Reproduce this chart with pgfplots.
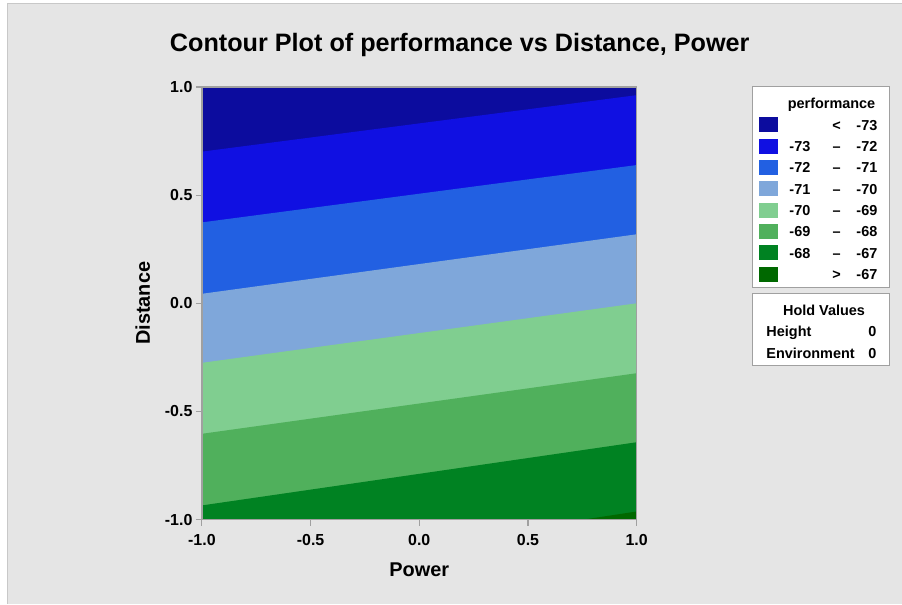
\documentclass[border=0pt]{standalone}
\usepackage{pgfplots}
\pgfplotsset{compat=1.18}
\usepackage{fontspec}
\setmainfont{Liberation Sans}

\definecolor{bggray}{HTML}{E5E5E5}
\definecolor{edgegray}{HTML}{C8C8C8}
\definecolor{axgray}{HTML}{A0A0A0}
\definecolor{lvA}{HTML}{0C0C9E}
\definecolor{lvB}{HTML}{1010E2}
\definecolor{lvC}{HTML}{2260E2}
\definecolor{lvD}{HTML}{7FA7DA}
\definecolor{lvE}{HTML}{80CE90}
\definecolor{lvF}{HTML}{50B05C}
\definecolor{lvG}{HTML}{008222}
\definecolor{lvH}{HTML}{006800}

\newcommand{\ttl}{\fontsize{25.3}{25.3}\selectfont\bfseries}
\newcommand{\lbl}{\fontsize{20}{20}\selectfont\bfseries}
\newcommand{\tck}{\fontsize{16}{16}\selectfont\bfseries}
\newcommand{\leg}{\fontsize{14.5}{14.5}\selectfont\bfseries}

\begin{document}
\begin{tikzpicture}[x=1bp,y=1bp]
% page background
\fill[white] (0,0) rectangle (902,604);
\fill[bggray] (7,0) rectangle (902,600);
\draw[edgegray, line width=1bp] (7.5,0) -- (7.5,600) -- (902,600);

% title
\node[font=\ttl] at (460,559) {Contour Plot of performance vs Distance, Power};

\begin{axis}[
  at={(202bp,84bp)}, anchor=south west,
  scale only axis, width=435bp, height=433bp,
  xmin=-1, xmax=1, ymin=-1, ymax=1,
  axis on top,
  axis line style={axgray, line width=1.5bp},
  tick style={axgray, line width=1.2bp},
  tick align=outside, major tick length=6bp,
  xtick={-1,-0.5,0,0.5,1},
  xticklabels={-1.0,-0.5,0.0,0.5,1.0},
  ytick={-1,-0.5,0,0.5,1},
  yticklabels={-1.0,-0.5,0.0,0.5,1.0},
  xtick pos=bottom, ytick pos=left,
  ticklabel style={font=\tck},
  xticklabel style={yshift=-5bp},
  xlabel={Power}, ylabel={Distance},
  label style={font=\lbl},
  xlabel style={at={(axis description cs:0.5,-0.1155)}, anchor=center},
  ylabel style={at={(axis description cs:-0.136,0.5)}, anchor=center},
]
% filled bands, each drawn from its upper contour down to the bottom edge
\addplot[draw=none, fill=lvA] coordinates {(-1,-1) (-1,1) (1,1) (1,-1)} --cycle;
\addplot[draw=none, fill=lvB] coordinates {(-1,-1) (-1,0.701) (1,0.962) (1,-1)} --cycle;
\addplot[draw=none, fill=lvC] coordinates {(-1,-1) (-1,0.374) (1,0.639) (1,-1)} --cycle;
\addplot[draw=none, fill=lvD] coordinates {(-1,-1) (-1,0.044) (1,0.319) (1,-1)} --cycle;
\addplot[draw=none, fill=lvE] coordinates {(-1,-1) (-1,-0.275) (1,0.000) (1,-1)} --cycle;
\addplot[draw=none, fill=lvF] coordinates {(-1,-1) (-1,-0.603) (1,-0.323) (1,-1)} --cycle;
\addplot[draw=none, fill=lvG] coordinates {(-1,-1) (-1,-0.934) (1,-0.642) (1,-1)} --cycle;
\addplot[draw=none, fill=lvH] coordinates {(0.752,-1) (1,-0.962) (1,-1)} --cycle;
\end{axis}

% legend: contour levels
\draw[axgray, fill=white, line width=1bp] (753,316) rectangle (890,517);
\node[font=\leg, anchor=base, inner sep=0pt] at (832,495) {performance};
\foreach \c [count=\i from 0] in {lvA,lvB,lvC,lvD,lvE,lvF,lvG,lvH} {
  \fill[\c] (759,{479-21.35*\i-7.5}) rectangle (778,{479-21.35*\i+7.5});
}
\foreach \lo/\sep/\hi [count=\i from 0] in {{}/{<}/-73, -73/\textendash/-72, -72/\textendash/-71, -71/\textendash/-70, -70/\textendash/-69, -69/\textendash/-68, -68/\textendash/-67, {}/{>}/-67} {
  \node[font=\leg, anchor=base east, inner sep=0pt] at (811,{479-21.35*\i-5.2}) {\lo};
  \node[font=\leg, anchor=base, inner sep=0pt] at (837,{479-21.35*\i-5.2}) {\sep};
  \node[font=\leg, anchor=base east, inner sep=0pt] at (878,{479-21.35*\i-5.2}) {\hi};
}

% legend: hold values
\draw[axgray, fill=white, line width=1bp] (753,238) rectangle (890,310);
\node[font=\leg, anchor=base, inner sep=0pt] at (824.5,288) {Hold Values};
\node[font=\leg, anchor=base west, inner sep=0pt] at (766.7,267) {Height};
\node[font=\leg, anchor=base east, inner sep=0pt] at (877,267) {0};
\node[font=\leg, anchor=base west, inner sep=0pt] at (766.7,245) {Environment};
\node[font=\leg, anchor=base east, inner sep=0pt] at (877,245) {0};
\end{tikzpicture}
\end{document}
